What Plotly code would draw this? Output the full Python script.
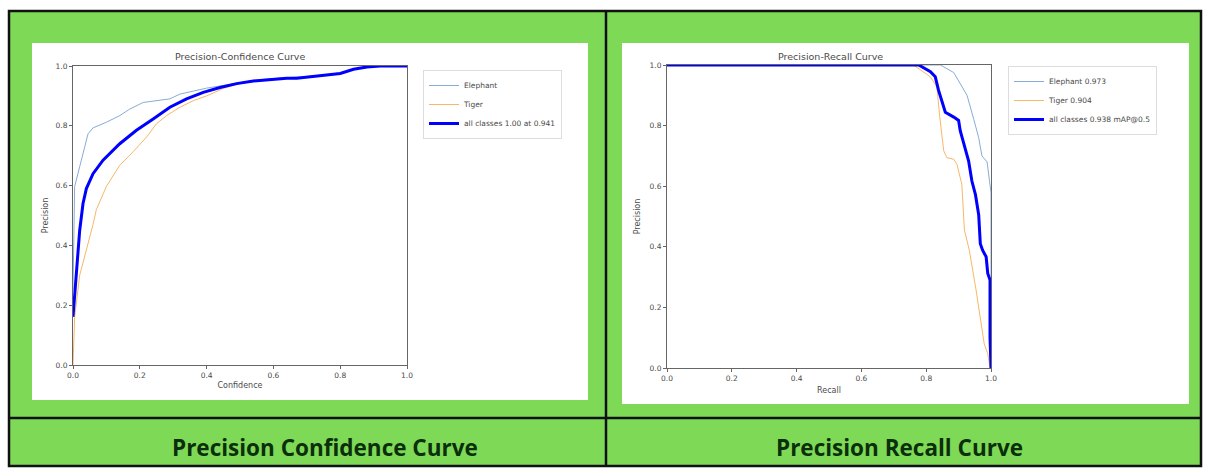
import plotly.graph_objects as go

W, H = 1208, 469

# ---------------- data ----------------
# Precision-Confidence curve
conf_elephant_x = [0.0, 0.003, 0.005, 0.02, 0.045, 0.06, 0.1, 0.14, 0.17, 0.21, 0.26, 0.29, 0.32, 0.36,
                   0.4, 0.45, 0.5, 0.55, 0.6, 0.65, 0.7, 0.75, 0.8, 0.84, 0.88, 0.92, 1.0]
conf_elephant_y = [0.25, 0.45, 0.597, 0.663, 0.773, 0.793, 0.812, 0.834, 0.856, 0.878, 0.886, 0.89, 0.906, 0.917,
                   0.926, 0.935, 0.945, 0.953, 0.958, 0.961, 0.965, 0.97, 0.977, 0.99, 0.998, 1.0, 1.0]

conf_tiger_x = [0.0, 0.005, 0.02, 0.045, 0.06, 0.07, 0.1, 0.14, 0.18, 0.22, 0.25, 0.28, 0.32, 0.36, 0.4,
                0.45, 0.5, 0.55, 0.6, 0.65, 0.7, 0.75, 0.8, 0.84, 0.88, 0.92, 1.0]
conf_tiger_y = [0.0, 0.16, 0.3, 0.405, 0.47, 0.52, 0.597, 0.668, 0.713, 0.762, 0.807, 0.834, 0.862, 0.884, 0.9,
                0.925, 0.942, 0.952, 0.958, 0.961, 0.962, 0.968, 0.974, 0.988, 0.996, 1.0, 1.0]

conf_all_x = [0.0, 0.01, 0.02, 0.03, 0.04, 0.06, 0.09, 0.14, 0.19, 0.24, 0.29, 0.34, 0.39, 0.44, 0.49,
              0.54, 0.64, 0.67, 0.74, 0.8, 0.84, 0.88, 0.92, 1.0]
conf_all_y = [0.161, 0.306, 0.45, 0.54, 0.59, 0.64, 0.685, 0.74, 0.785, 0.823, 0.862, 0.89, 0.912, 0.928, 0.941,
              0.95, 0.959, 0.959, 0.967, 0.975, 0.989, 0.997, 1.0, 1.0]

# Precision-Recall curve
pr_elephant_x = [0.0, 0.83, 0.844, 0.885, 0.905, 0.926, 0.947, 0.962, 0.972, 0.988, 0.995, 1.0, 1.0]
pr_elephant_y = [1.0, 1.0, 1.0, 0.975, 0.94, 0.9, 0.82, 0.76, 0.7, 0.68, 0.62, 0.58, 0.0]

pr_tiger_x = [0.0, 0.761, 0.813, 0.833, 0.842, 0.854, 0.864, 0.885, 0.895, 0.91, 0.918, 0.933, 0.954,
              0.969, 0.979, 0.99, 0.997]
pr_tiger_y = [1.0, 1.0, 0.961, 0.928, 0.828, 0.717, 0.694, 0.689, 0.672, 0.606, 0.455, 0.389, 0.257,
              0.158, 0.08, 0.047, 0.0]

pr_all_x = [0.0, 0.777, 0.813, 0.828, 0.838, 0.849, 0.859, 0.885, 0.9, 0.905, 0.916, 0.931, 0.941, 0.952,
            0.962, 0.967, 0.974, 0.985, 0.99, 0.997, 0.997, 1.0]
pr_all_y = [1.0, 1.0, 0.978, 0.961, 0.917, 0.878, 0.844, 0.828, 0.817, 0.783, 0.739, 0.683, 0.617, 0.572,
            0.506, 0.41, 0.389, 0.367, 0.312, 0.29, 0.1, 0.0]

labels_conf = ["Elephant", "Tiger", "all classes 1.00 at 0.941"]
labels_pr = ["Elephant 0.973", "Tiger 0.904", "all classes 0.938 mAP@0.5"]
captions = ["Precision Confidence Curve", "Precision Recall Curve"]
subtitles = ["Precision-Confidence Curve", "Precision-Recall Curve"]
xtitles = ["Confidence", "Recall"]
tick_vals = [0.0, 0.2, 0.4, 0.6, 0.8, 1.0]
tick_text = ["0.0", "0.2", "0.4", "0.6", "0.8", "1.0"]

# ---------------- style ----------------
GREEN = "#7ed957"
C_ELE = "#86acd8"
C_TIG = "#f6b867"
C_ALL = "#0000ff"
TXT = "#4a4a4a"
FONT = "DejaVu Sans"


def fx(px):
    return px / W


def fy(py):
    return 1 - py / H


fig = go.Figure()

series = [
    (conf_elephant_x, conf_elephant_y, labels_conf[0], C_ELE, 1, "x", "y", "legend"),
    (conf_tiger_x, conf_tiger_y, labels_conf[1], C_TIG, 1, "x", "y", "legend"),
    (conf_all_x, conf_all_y, labels_conf[2], C_ALL, 3, "x", "y", "legend"),
    (pr_elephant_x, pr_elephant_y, labels_pr[0], C_ELE, 1, "x2", "y2", "legend2"),
    (pr_tiger_x, pr_tiger_y, labels_pr[1], C_TIG, 1, "x2", "y2", "legend2"),
    (pr_all_x, pr_all_y, labels_pr[2], C_ALL, 3, "x2", "y2", "legend2"),
]
for xs, ys, name, col, w, xa, ya, lg in series:
    fig.add_trace(go.Scatter(x=xs, y=ys, mode="lines", name=name,
                             line=dict(color=col, width=w),
                             xaxis=xa, yaxis=ya, legend=lg, hoverinfo="skip"))

axis_common = dict(range=[0, 1], tickvals=tick_vals, ticktext=tick_text, ticks="outside",
                   ticklen=3, tickwidth=1, tickcolor="#666", showline=True, linecolor="#666",
                   linewidth=1, mirror=True, showgrid=False, zeroline=False,
                   tickfont=dict(family=FONT, size=7.5, color=TXT), automargin=False,
                   fixedrange=True)

fig.update_layout(
    width=W, height=H, margin=dict(l=0, r=0, t=0, b=0, pad=0),
    template="none", paper_bgcolor="white", plot_bgcolor="white",
    showlegend=True,
    xaxis=dict(domain=[fx(73), fx(407)], anchor="y",
               title=dict(text=xtitles[0], font=dict(family=FONT, size=8, color=TXT), standoff=3),
               **axis_common),
    yaxis=dict(domain=[fy(365), fy(66)], anchor="x",
               title=dict(text="Precision", font=dict(family=FONT, size=8, color=TXT), standoff=5),
               **axis_common),
    xaxis2=dict(domain=[fx(667), fx(991)], anchor="y2",
                title=dict(text=xtitles[1], font=dict(family=FONT, size=8, color=TXT), standoff=5),
                **axis_common),
    yaxis2=dict(domain=[fy(368), fy(65)], anchor="x2",
                title=dict(text="Precision", font=dict(family=FONT, size=8, color=TXT), standoff=7),
                **axis_common),
    legend=dict(x=fx(423), y=fy(70), xanchor="left", yanchor="top", bgcolor="white",
                bordercolor="#dddddd", borderwidth=1, itemwidth=30, tracegroupgap=0,
                font=dict(family=FONT, size=7.5, color=TXT)),
    legend2=dict(x=fx(1008), y=fy(66), xanchor="left", yanchor="top", bgcolor="white",
                 bordercolor="#dddddd", borderwidth=1, itemwidth=30, tracegroupgap=0,
                 font=dict(family=FONT, size=7.5, color=TXT)),
)

shapes = [
    dict(type="rect", xref="paper", yref="paper", x0=fx(9), x1=fx(1201), y0=fy(466), y1=fy(11),
         fillcolor=GREEN, line=dict(color="#111", width=2.5), layer="below"),
    dict(type="rect", xref="paper", yref="paper", x0=fx(32), x1=fx(588), y0=fy(400), y1=fy(43),
         fillcolor="white", line=dict(width=0), layer="below"),
    dict(type="rect", xref="paper", yref="paper", x0=fx(622), x1=fx(1189), y0=fy(404), y1=fy(43),
         fillcolor="white", line=dict(width=0), layer="below"),
    dict(type="line", xref="paper", yref="paper", x0=fx(606), x1=fx(606), y0=fy(466), y1=fy(11),
         line=dict(color="#111", width=2.5), layer="below"),
    dict(type="line", xref="paper", yref="paper", x0=fx(9), x1=fx(1201), y0=fy(418), y1=fy(418),
         line=dict(color="#111", width=2.5), layer="below"),
]
fig.update_layout(shapes=shapes)

annotations = [
    dict(text=subtitles[0], x=fx(240), y=fy(57), xref="paper", yref="paper", showarrow=False,
         xanchor="center", yanchor="middle", font=dict(family=FONT, size=9.5, color=TXT)),
    dict(text=subtitles[1], x=fx(830), y=fy(56), xref="paper", yref="paper", showarrow=False,
         xanchor="center", yanchor="middle", font=dict(family=FONT, size=9.5, color=TXT)),
    dict(text="<b>" + captions[0] + "</b>", x=fx(325), y=fy(447), xref="paper", yref="paper",
         showarrow=False, xanchor="center", yanchor="middle",
         font=dict(family="Open Sans", size=22.5, color="#0b2f0b")),
    dict(text="<b>" + captions[1] + "</b>", x=fx(899), y=fy(447), xref="paper", yref="paper",
         showarrow=False, xanchor="center", yanchor="middle",
         font=dict(family="Open Sans", size=22.5, color="#0b2f0b")),
]
fig.update_layout(annotations=annotations)

fig.write_html("out.html", config={"displayModeBar": False, "staticPlot": True},
               post_script="document.body.style.margin='0px';")
